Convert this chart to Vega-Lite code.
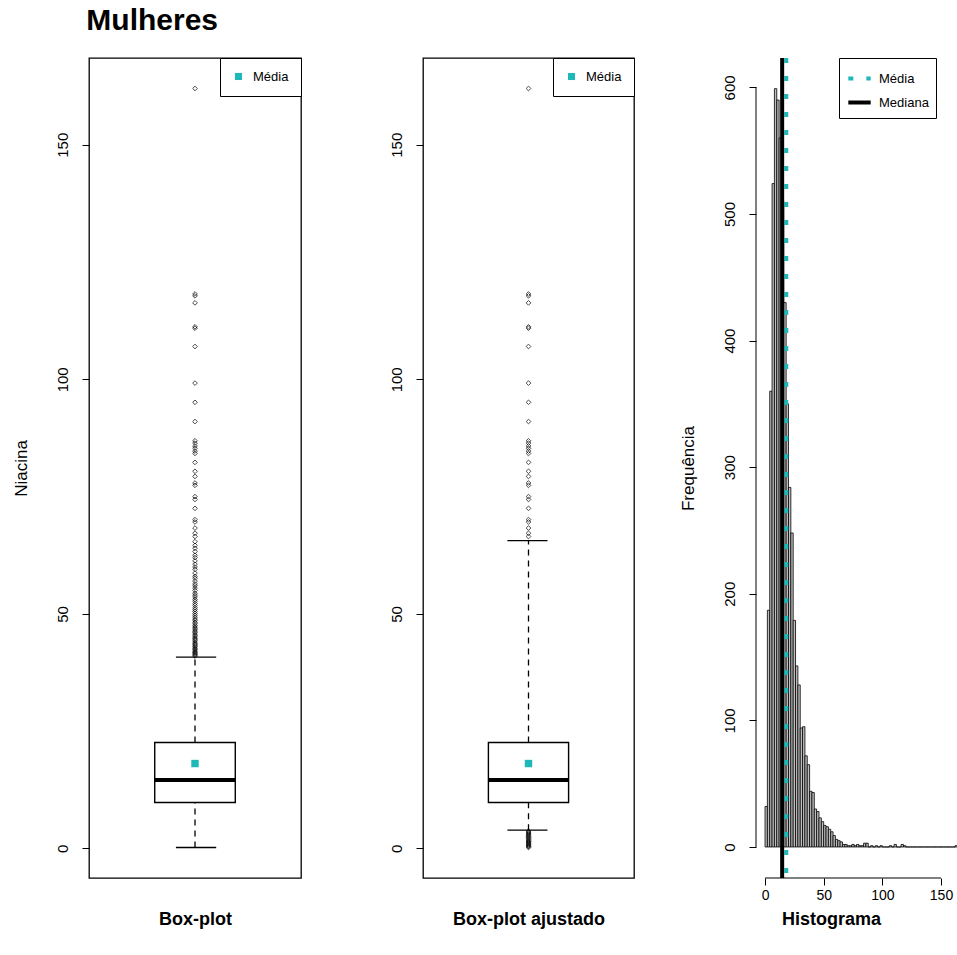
{
  "$schema": "https://vega.github.io/schema/vega-lite/v6.json",
  "padding": {"left": 11, "top": 6, "right": 0, "bottom": 0},
  "background": "white",
  "bounds": "flush",
  "spacing": 122,
  "resolve": {"scale": {"color": "independent", "strokeDash": "independent", "x": "independent", "y": "independent"}, "legend": {"color": "independent", "strokeDash": "independent"}},
  "title": {"text": "Mulheres", "anchor": "start", "fontSize": 30, "fontWeight": "bold", "font": "Liberation Sans", "color": "black", "dx": 75, "offset": 20},
  "config": {
    "font": "Liberation Sans",
    "view": {"stroke": null},
    "axis": {"labelFont": "Liberation Sans", "titleFont": "Liberation Sans", "labelColor": "black", "titleColor": "black", "tickColor": "black", "domainColor": "black", "grid": false},
    "legend": {"labelFont": "Liberation Sans", "labelColor": "black"}
  },
  "datasets": {
    "box": [
      {"panel": "Box-plot", "lower": 0.2, "q1": 9.8, "median": 14.6, "q3": 22.6, "upper": 40.8, "mean": 18.1, "label": "Média"},
      {"panel": "Box-plot ajustado", "lower": 3.9, "q1": 9.8, "median": 14.6, "q3": 22.6, "upper": 65.6, "mean": 18.1, "label": "Média"}
    ],
    "outliers": [
      {"group": "mid", "value": 41.0}, {"group": "mid", "value": 41.2}, {"group": "mid", "value": 41.4}, {"group": "mid", "value": 41.6}, {"group": "mid", "value": 41.8},
      {"group": "mid", "value": 42.0}, {"group": "mid", "value": 42.3}, {"group": "mid", "value": 42.5}, {"group": "mid", "value": 42.7}, {"group": "mid", "value": 43.0},
      {"group": "mid", "value": 43.2}, {"group": "mid", "value": 43.5}, {"group": "mid", "value": 43.7}, {"group": "mid", "value": 44.0}, {"group": "mid", "value": 44.3},
      {"group": "mid", "value": 44.6}, {"group": "mid", "value": 44.8}, {"group": "mid", "value": 45.1}, {"group": "mid", "value": 45.4}, {"group": "mid", "value": 45.7},
      {"group": "mid", "value": 46.0}, {"group": "mid", "value": 46.3}, {"group": "mid", "value": 46.6}, {"group": "mid", "value": 46.9}, {"group": "mid", "value": 47.2},
      {"group": "mid", "value": 47.5}, {"group": "mid", "value": 47.9}, {"group": "mid", "value": 48.2}, {"group": "mid", "value": 48.6}, {"group": "mid", "value": 48.9},
      {"group": "mid", "value": 49.3}, {"group": "mid", "value": 49.7}, {"group": "mid", "value": 50.1}, {"group": "mid", "value": 50.5}, {"group": "mid", "value": 50.9},
      {"group": "mid", "value": 51.3}, {"group": "mid", "value": 51.8}, {"group": "mid", "value": 52.2}, {"group": "mid", "value": 52.7}, {"group": "mid", "value": 53.1},
      {"group": "mid", "value": 53.6}, {"group": "mid", "value": 54.0}, {"group": "mid", "value": 54.4}, {"group": "mid", "value": 55.0}, {"group": "mid", "value": 55.5},
      {"group": "mid", "value": 56.0}, {"group": "mid", "value": 56.4}, {"group": "mid", "value": 57.0}, {"group": "mid", "value": 57.6}, {"group": "mid", "value": 58.0},
      {"group": "mid", "value": 58.7}, {"group": "mid", "value": 59.5}, {"group": "mid", "value": 60.0}, {"group": "mid", "value": 60.6}, {"group": "mid", "value": 61.3},
      {"group": "mid", "value": 62.0}, {"group": "mid", "value": 62.5}, {"group": "mid", "value": 63.3}, {"group": "mid", "value": 64.0}, {"group": "mid", "value": 64.6},
      {"group": "mid", "value": 65.4},
      {"group": "common", "value": 66.5}, {"group": "common", "value": 67.2}, {"group": "common", "value": 68.3}, {"group": "common", "value": 69.6}, {"group": "common", "value": 70.1},
      {"group": "common", "value": 72.5}, {"group": "common", "value": 74.4}, {"group": "common", "value": 75.0}, {"group": "common", "value": 77.4}, {"group": "common", "value": 77.9},
      {"group": "common", "value": 79.3}, {"group": "common", "value": 80.4}, {"group": "common", "value": 82.3}, {"group": "common", "value": 84.2}, {"group": "common", "value": 84.7},
      {"group": "common", "value": 85.3}, {"group": "common", "value": 85.8}, {"group": "common", "value": 86.4}, {"group": "common", "value": 86.9}, {"group": "common", "value": 91.0},
      {"group": "common", "value": 95.1}, {"group": "common", "value": 99.2}, {"group": "common", "value": 107.0}, {"group": "common", "value": 110.9}, {"group": "common", "value": 111.2},
      {"group": "common", "value": 116.3}, {"group": "common", "value": 117.8}, {"group": "common", "value": 118.2}, {"group": "common", "value": 162.0},
      {"group": "low", "value": 0.2}, {"group": "low", "value": 0.4}, {"group": "low", "value": 0.5}, {"group": "low", "value": 0.7}, {"group": "low", "value": 0.9},
      {"group": "low", "value": 1.0}, {"group": "low", "value": 1.2}, {"group": "low", "value": 1.4}, {"group": "low", "value": 1.5}, {"group": "low", "value": 1.7},
      {"group": "low", "value": 1.9}, {"group": "low", "value": 2.1}, {"group": "low", "value": 2.3}, {"group": "low", "value": 2.5}, {"group": "low", "value": 2.7},
      {"group": "low", "value": 2.9}, {"group": "low", "value": 3.1}, {"group": "low", "value": 3.3}, {"group": "low", "value": 3.5}, {"group": "low", "value": 3.7}
    ],
    "hist": [
      {"bin_start": 0, "bin_end": 2, "count": 32}, {"bin_start": 2, "bin_end": 4, "count": 187}, {"bin_start": 4, "bin_end": 6, "count": 360}, {"bin_start": 6, "bin_end": 8, "count": 524},
      {"bin_start": 8, "bin_end": 10, "count": 599}, {"bin_start": 10, "bin_end": 12, "count": 590}, {"bin_start": 12, "bin_end": 14, "count": 560}, {"bin_start": 14, "bin_end": 16, "count": 510},
      {"bin_start": 16, "bin_end": 18, "count": 430}, {"bin_start": 18, "bin_end": 20, "count": 350}, {"bin_start": 20, "bin_end": 22, "count": 284}, {"bin_start": 22, "bin_end": 24, "count": 248},
      {"bin_start": 24, "bin_end": 26, "count": 179}, {"bin_start": 26, "bin_end": 28, "count": 143}, {"bin_start": 28, "bin_end": 30, "count": 128}, {"bin_start": 30, "bin_end": 32, "count": 94},
      {"bin_start": 32, "bin_end": 34, "count": 95}, {"bin_start": 34, "bin_end": 36, "count": 72}, {"bin_start": 36, "bin_end": 38, "count": 65}, {"bin_start": 38, "bin_end": 40, "count": 44},
      {"bin_start": 40, "bin_end": 42, "count": 43}, {"bin_start": 42, "bin_end": 44, "count": 30}, {"bin_start": 44, "bin_end": 46, "count": 28}, {"bin_start": 46, "bin_end": 48, "count": 23},
      {"bin_start": 48, "bin_end": 50, "count": 20}, {"bin_start": 50, "bin_end": 52, "count": 17}, {"bin_start": 52, "bin_end": 54, "count": 16}, {"bin_start": 54, "bin_end": 56, "count": 14},
      {"bin_start": 56, "bin_end": 58, "count": 12}, {"bin_start": 58, "bin_end": 60, "count": 9}, {"bin_start": 60, "bin_end": 62, "count": 6}, {"bin_start": 62, "bin_end": 64, "count": 5},
      {"bin_start": 64, "bin_end": 66, "count": 4}, {"bin_start": 66, "bin_end": 68, "count": 2}, {"bin_start": 68, "bin_end": 70, "count": 2}, {"bin_start": 70, "bin_end": 72, "count": 1},
      {"bin_start": 72, "bin_end": 74, "count": 1}, {"bin_start": 74, "bin_end": 76, "count": 2}, {"bin_start": 76, "bin_end": 78, "count": 1}, {"bin_start": 78, "bin_end": 80, "count": 2},
      {"bin_start": 80, "bin_end": 82, "count": 1}, {"bin_start": 82, "bin_end": 84, "count": 1}, {"bin_start": 84, "bin_end": 86, "count": 3}, {"bin_start": 86, "bin_end": 88, "count": 3},
      {"bin_start": 88, "bin_end": 90, "count": 0}, {"bin_start": 90, "bin_end": 92, "count": 1}, {"bin_start": 92, "bin_end": 94, "count": 0}, {"bin_start": 94, "bin_end": 96, "count": 1},
      {"bin_start": 96, "bin_end": 98, "count": 0}, {"bin_start": 98, "bin_end": 100, "count": 1}, {"bin_start": 100, "bin_end": 102, "count": 0}, {"bin_start": 102, "bin_end": 104, "count": 0},
      {"bin_start": 104, "bin_end": 106, "count": 0}, {"bin_start": 106, "bin_end": 108, "count": 1}, {"bin_start": 108, "bin_end": 110, "count": 0}, {"bin_start": 110, "bin_end": 112, "count": 2},
      {"bin_start": 112, "bin_end": 114, "count": 0}, {"bin_start": 114, "bin_end": 116, "count": 0}, {"bin_start": 116, "bin_end": 118, "count": 2}, {"bin_start": 118, "bin_end": 120, "count": 1},
      {"bin_start": 120, "bin_end": 122, "count": 0}, {"bin_start": 122, "bin_end": 124, "count": 0}, {"bin_start": 124, "bin_end": 126, "count": 0}, {"bin_start": 126, "bin_end": 128, "count": 0},
      {"bin_start": 128, "bin_end": 130, "count": 0}, {"bin_start": 130, "bin_end": 132, "count": 0}, {"bin_start": 132, "bin_end": 134, "count": 0}, {"bin_start": 134, "bin_end": 136, "count": 0},
      {"bin_start": 136, "bin_end": 138, "count": 0}, {"bin_start": 138, "bin_end": 140, "count": 0}, {"bin_start": 140, "bin_end": 142, "count": 0}, {"bin_start": 142, "bin_end": 144, "count": 0},
      {"bin_start": 144, "bin_end": 146, "count": 0}, {"bin_start": 146, "bin_end": 148, "count": 0}, {"bin_start": 148, "bin_end": 150, "count": 0}, {"bin_start": 150, "bin_end": 152, "count": 0},
      {"bin_start": 152, "bin_end": 154, "count": 0}, {"bin_start": 154, "bin_end": 156, "count": 0}, {"bin_start": 156, "bin_end": 158, "count": 0}, {"bin_start": 158, "bin_end": 160, "count": 0},
      {"bin_start": 160, "bin_end": 162, "count": 0}, {"bin_start": 162, "bin_end": 164, "count": 1}
    ],
    "lines": [
      {"stat": "Média", "value": 18.1},
      {"stat": "Mediana", "value": 14.6}
    ]
  },
  "hconcat": [
    {
      "width": 212,
      "height": 820,
      "view": {"stroke": "black", "strokeWidth": 1.3},
      "layer": [
        {
          "data": {"name": "box"},
          "transform": [{"filter": "datum.panel === 'Box-plot'"}],
          "mark": {"type": "rule", "color": "black", "strokeWidth": 1.3, "strokeDash": [6, 5]},
          "encoding": {
            "x": {"datum": 0.5, "type": "quantitative", "scale": {"domain": [0, 1], "nice": false, "zero": false},
              "axis": {"title": "Box-plot", "labels": false, "ticks": false, "domain": false, "titleX": 106, "titleY": 41, "titleAlign": "center", "titleBaseline": "middle", "titleFontSize": 18, "titleFontWeight": "bold"}},
            "y": {"field": "q3", "type": "quantitative", "scale": {"domain": [-6.3, 168.5], "nice": false, "zero": false},
              "axis": {"values": [0, 50, 100, 150], "title": "Niacina", "domain": false, "tickSize": 7, "labelAngle": -90, "labelAlign": "center", "labelBaseline": "bottom", "labelPadding": 12, "labelFontSize": 15, "titleX": -68, "titleY": 410, "titleAngle": -90, "titleAlign": "center", "titleBaseline": "middle", "titleFontSize": 17, "titleFontWeight": "normal"}},
            "y2": {"field": "upper"}
          }
        },
        {
          "data": {"name": "box"},
          "transform": [{"filter": "datum.panel === 'Box-plot'"}],
          "mark": {"type": "rule", "color": "black", "strokeWidth": 1.3, "strokeDash": [6, 5]},
          "encoding": {"x": {"datum": 0.5, "type": "quantitative"}, "y": {"field": "lower", "type": "quantitative"}, "y2": {"field": "q1"}}
        },
        {
          "data": {"name": "box"},
          "transform": [{"filter": "datum.panel === 'Box-plot'"}],
          "mark": {"type": "rect", "fill": "white", "stroke": "black", "strokeWidth": 1.4},
          "encoding": {"x": {"datum": 0.31, "type": "quantitative"}, "x2": {"datum": 0.69}, "y": {"field": "q1", "type": "quantitative"}, "y2": {"field": "q3"}}
        },
        {
          "data": {"name": "box"},
          "transform": [{"filter": "datum.panel === 'Box-plot'"}],
          "mark": {"type": "rule", "color": "black", "strokeWidth": 4},
          "encoding": {"x": {"datum": 0.31, "type": "quantitative"}, "x2": {"datum": 0.69}, "y": {"field": "median", "type": "quantitative"}}
        },
        {
          "data": {"name": "box"},
          "transform": [{"filter": "datum.panel === 'Box-plot'"}],
          "mark": {"type": "rule", "color": "black", "strokeWidth": 1.3},
          "encoding": {"x": {"datum": 0.41, "type": "quantitative"}, "x2": {"datum": 0.6}, "y": {"field": "upper", "type": "quantitative"}}
        },
        {
          "data": {"name": "box"},
          "transform": [{"filter": "datum.panel === 'Box-plot'"}],
          "mark": {"type": "rule", "color": "black", "strokeWidth": 1.3},
          "encoding": {"x": {"datum": 0.41, "type": "quantitative"}, "x2": {"datum": 0.6}, "y": {"field": "lower", "type": "quantitative"}}
        },
        {
          "data": {"name": "outliers"},
          "transform": [{"filter": "datum.group === 'mid' || datum.group === 'common'"}],
          "mark": {"type": "point", "shape": "diamond", "filled": false, "stroke": "black", "strokeWidth": 1, "size": 22},
          "encoding": {"x": {"datum": 0.5, "type": "quantitative"}, "y": {"field": "value", "type": "quantitative"}}
        },
        {
          "data": {"name": "box"},
          "transform": [{"filter": "datum.panel === 'Box-plot'"}],
          "mark": {"type": "point", "shape": "square", "filled": true, "size": 55, "opacity": 1},
          "encoding": {
            "x": {"datum": 0.5, "type": "quantitative"},
            "y": {"field": "mean", "type": "quantitative"},
            "color": {"field": "label", "type": "nominal", "scale": {"domain": ["Média"], "range": ["#1fb8b8"]},
              "legend": {"title": null, "orient": "top-right", "offset": 0, "strokeColor": "black", "fillColor": "white", "padding": 12, "symbolType": "square", "symbolSize": 50, "symbolOpacity": 1, "labelFontSize": 13, "labelOffset": 8}}
          }
        }
      ]
    },
    {
      "width": 211,
      "height": 820,
      "view": {"stroke": "black", "strokeWidth": 1.3},
      "layer": [
        {
          "data": {"name": "box"},
          "transform": [{"filter": "datum.panel === 'Box-plot ajustado'"}],
          "mark": {"type": "rule", "color": "black", "strokeWidth": 1.3, "strokeDash": [6, 5]},
          "encoding": {
            "x": {"datum": 0.5, "type": "quantitative", "scale": {"domain": [0, 1], "nice": false, "zero": false},
              "axis": {"title": "Box-plot ajustado", "labels": false, "ticks": false, "domain": false, "titleX": 105.5, "titleY": 41, "titleAlign": "center", "titleBaseline": "middle", "titleFontSize": 18, "titleFontWeight": "bold"}},
            "y": {"field": "q3", "type": "quantitative", "scale": {"domain": [-6.3, 168.5], "nice": false, "zero": false},
              "axis": {"values": [0, 50, 100, 150], "title": null, "domain": false, "tickSize": 7, "labelAngle": -90, "labelAlign": "center", "labelBaseline": "bottom", "labelPadding": 12, "labelFontSize": 15}},
            "y2": {"field": "upper"}
          }
        },
        {
          "data": {"name": "box"},
          "transform": [{"filter": "datum.panel === 'Box-plot ajustado'"}],
          "mark": {"type": "rule", "color": "black", "strokeWidth": 1.3, "strokeDash": [6, 5]},
          "encoding": {"x": {"datum": 0.5, "type": "quantitative"}, "y": {"field": "lower", "type": "quantitative"}, "y2": {"field": "q1"}}
        },
        {
          "data": {"name": "box"},
          "transform": [{"filter": "datum.panel === 'Box-plot ajustado'"}],
          "mark": {"type": "rect", "fill": "white", "stroke": "black", "strokeWidth": 1.4},
          "encoding": {"x": {"datum": 0.31, "type": "quantitative"}, "x2": {"datum": 0.69}, "y": {"field": "q1", "type": "quantitative"}, "y2": {"field": "q3"}}
        },
        {
          "data": {"name": "box"},
          "transform": [{"filter": "datum.panel === 'Box-plot ajustado'"}],
          "mark": {"type": "rule", "color": "black", "strokeWidth": 4},
          "encoding": {"x": {"datum": 0.31, "type": "quantitative"}, "x2": {"datum": 0.69}, "y": {"field": "median", "type": "quantitative"}}
        },
        {
          "data": {"name": "box"},
          "transform": [{"filter": "datum.panel === 'Box-plot ajustado'"}],
          "mark": {"type": "rule", "color": "black", "strokeWidth": 1.3},
          "encoding": {"x": {"datum": 0.4, "type": "quantitative"}, "x2": {"datum": 0.59}, "y": {"field": "upper", "type": "quantitative"}}
        },
        {
          "data": {"name": "box"},
          "transform": [{"filter": "datum.panel === 'Box-plot ajustado'"}],
          "mark": {"type": "rule", "color": "black", "strokeWidth": 1.3},
          "encoding": {"x": {"datum": 0.4, "type": "quantitative"}, "x2": {"datum": 0.59}, "y": {"field": "lower", "type": "quantitative"}}
        },
        {
          "data": {"name": "outliers"},
          "transform": [{"filter": "datum.group === 'low' || datum.group === 'common'"}],
          "mark": {"type": "point", "shape": "diamond", "filled": false, "stroke": "black", "strokeWidth": 1, "size": 22},
          "encoding": {"x": {"datum": 0.5, "type": "quantitative"}, "y": {"field": "value", "type": "quantitative"}}
        },
        {
          "data": {"name": "box"},
          "transform": [{"filter": "datum.panel === 'Box-plot ajustado'"}],
          "mark": {"type": "point", "shape": "square", "filled": true, "size": 55, "opacity": 1},
          "encoding": {
            "x": {"datum": 0.5, "type": "quantitative"},
            "y": {"field": "mean", "type": "quantitative"},
            "color": {"field": "label", "type": "nominal", "scale": {"domain": ["Média"], "range": ["#1fb8b8"]},
              "legend": {"title": null, "orient": "top-right", "offset": 0, "strokeColor": "black", "fillColor": "white", "padding": 12, "symbolType": "square", "symbolSize": 50, "symbolOpacity": 1, "labelFontSize": 13, "labelOffset": 8}}
          }
        }
      ]
    },
    {
      "width": 202,
      "height": 820,
      "layer": [
        {
          "data": {"name": "hist"},
          "mark": {"type": "rect", "fill": "#bebebe", "stroke": "black", "strokeWidth": 0.8},
          "encoding": {
            "x": {"field": "bin_start", "type": "quantitative", "scale": {"domain": [-7.7, 164.5], "nice": false, "zero": false},
              "axis": {"values": [0, 50, 100, 150], "title": "Histograma", "domain": false, "tickSize": 7, "labelPadding": 3, "labelFontSize": 14, "labelAngle": 0, "titleX": 75, "titleY": 41, "titleAlign": "center", "titleBaseline": "middle", "titleFontSize": 18, "titleFontWeight": "bold"}},
            "x2": {"field": "bin_end"},
            "y": {"field": "count", "type": "quantitative", "scale": {"domain": [-24.5, 623.2], "nice": false, "zero": false},
              "axis": {"values": [0, 100, 200, 300, 400, 500, 600], "title": "Frequência", "domain": false, "tickSize": 7, "labelAngle": -90, "labelAlign": "center", "labelBaseline": "bottom", "labelPadding": 12, "labelFontSize": 15, "titleX": -68, "titleY": 410, "titleAngle": -90, "titleAlign": "center", "titleBaseline": "middle", "titleFontSize": 17, "titleFontWeight": "normal"}},
            "y2": {"datum": 0}
          }
        },
        {
          "data": {"values": [{}]},
          "mark": {"type": "rule", "color": "black", "strokeWidth": 1},
          "encoding": {"x": {"datum": 0, "type": "quantitative"}, "x2": {"datum": 150}, "y": {"datum": -24.5, "type": "quantitative"}}
        },
        {
          "data": {"values": [{}]},
          "mark": {"type": "rule", "color": "black", "strokeWidth": 1},
          "encoding": {"x": {"datum": -7.7, "type": "quantitative"}, "y": {"datum": 0, "type": "quantitative"}, "y2": {"datum": 600}}
        },
        {
          "data": {"name": "lines"},
          "mark": {"type": "rule", "strokeWidth": 4},
          "encoding": {
            "x": {"field": "value", "type": "quantitative"},
            "color": {"field": "stat", "type": "nominal", "scale": {"domain": ["Média", "Mediana"], "range": ["#1fb8b8", "black"]},
              "legend": {"title": null, "orient": "none", "legendX": 83, "legendY": 0, "strokeColor": "black", "fillColor": "white", "padding": 7, "symbolType": "stroke", "symbolSize": 500, "symbolStrokeWidth": 4, "labelFontSize": 13, "labelOffset": 6, "rowPadding": 2}},
            "strokeDash": {"field": "stat", "type": "nominal", "scale": {"domain": ["Média", "Mediana"], "range": [[5, 13], [1, 0]]},
              "legend": {"title": null, "orient": "none", "legendX": 83, "legendY": 0, "strokeColor": "black", "fillColor": "white", "padding": 7, "symbolType": "stroke", "symbolSize": 500, "symbolStrokeWidth": 4, "labelFontSize": 13, "labelOffset": 6, "rowPadding": 2}}
          }
        }
      ]
    }
  ]
}
